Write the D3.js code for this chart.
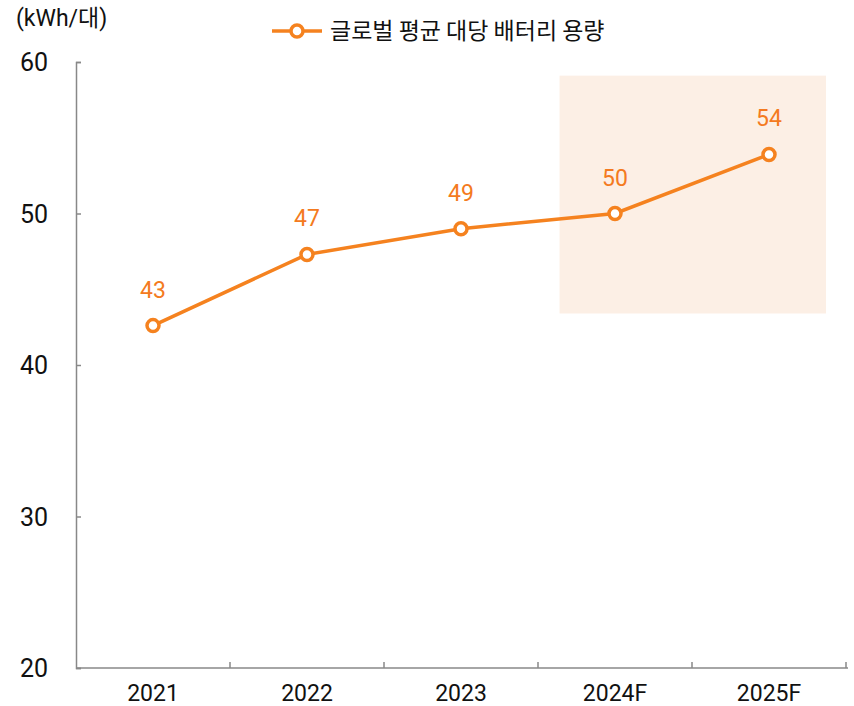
<!DOCTYPE html>
<html>
<head>
<meta charset="utf-8">
<script src="https://cdn.jsdelivr.net/npm/d3@7"></script>
<style>
  body { margin: 0; background: #fff; }
  text { font-family: Roboto, "Noto Sans CJK KR", sans-serif; }
</style>
</head>
<body>
<div id="chart"></div>
<script>
var years = ["2021", "2022", "2023", "2024F", "2025F"];
var capacity = [42.6, 47.3, 49.0, 50.0, 53.9];
var valueLabels = ["43", "47", "49", "50", "54"];
var yTicks = [20, 30, 40, 50, 60];
var seriesName = "글로벌 평균 대당 배터리 용량";
var unitLabel = "(kWh/대)";
var forecastYears = ["2024F", "2025F"];

var width = 854, height = 706;
var margin = {left: 76, right: 8, top: 62, bottom: 38};
var orange = "#F5821F";

var svg = d3.select("#chart").append("svg")
  .attr("width", width).attr("height", height);

var x = d3.scaleBand().domain(years).range([margin.left, width - margin.right]);
var y = d3.scaleLinear().domain([20, 60]).range([height - margin.bottom, margin.top]);
var bw = x.bandwidth();

// forecast shading
var sx0 = x(forecastYears[0]) + bw * 0.14, sx1 = x(forecastYears[1]) + bw * 0.87;
svg.append("rect")
  .attr("x", sx0)
  .attr("y", y(59.1))
  .attr("width", sx1 - sx0)
  .attr("height", y(43.4) - y(59.1))
  .attr("fill", "#FCEFE5");

// y axis
var yAxis = svg.append("g")
  .attr("transform", "translate(" + margin.left + ",0)")
  .call(d3.axisRight(y).tickValues(yTicks).tickSize(5).tickFormat(""));
yAxis.select(".domain").attr("stroke", "#888").attr("stroke-width", 1.5);
yAxis.selectAll(".tick line").attr("stroke", "#888").attr("stroke-width", 1.5);

svg.selectAll(".ylab").data(yTicks).enter().append("text")
  .attr("class", "ylab")
  .attr("x", 48).attr("y", function(d) { return y(d) + 9; })
  .attr("text-anchor", "end")
  .attr("style", "font-size:25px;fill:#111")
  .text(function(d) { return d; });

// x axis
var xAxis = svg.append("g")
  .attr("transform", "translate(0," + y(20) + ")");
xAxis.append("line")
  .attr("x1", margin.left).attr("x2", width - margin.right + 2)
  .attr("stroke", "#888").attr("stroke-width", 1.5);
xAxis.selectAll(".xtick").data(years).enter().append("line")
  .attr("class", "xtick")
  .attr("x1", function(d) { return x(d) + bw; })
  .attr("x2", function(d) { return x(d) + bw; })
  .attr("y1", 0).attr("y2", -6)
  .attr("stroke", "#888").attr("stroke-width", 1.5);
xAxis.selectAll(".xlab").data(years).enter().append("text")
  .attr("class", "xlab")
  .attr("x", function(d) { return x(d) + bw / 2; })
  .attr("y", 33)
  .attr("text-anchor", "middle")
  .attr("style", "font-size:23px;fill:#111")
  .text(function(d) { return d; });

// line
var line = d3.line()
  .x(function(d, i) { return x(years[i]) + bw / 2; })
  .y(function(d) { return y(d); });

svg.append("path")
  .datum(capacity)
  .attr("d", line)
  .attr("fill", "none")
  .attr("stroke", orange)
  .attr("stroke-width", 3.5);

svg.selectAll(".pt").data(capacity).enter().append("circle")
  .attr("class", "pt")
  .attr("cx", function(d, i) { return x(years[i]) + bw / 2; })
  .attr("cy", function(d) { return y(d); })
  .attr("r", 6)
  .attr("fill", "#fff")
  .attr("stroke", orange)
  .attr("stroke-width", 3.5);

svg.selectAll(".vlab").data(capacity).enter().append("text")
  .attr("class", "vlab")
  .attr("x", function(d, i) { return x(years[i]) + bw / 2; })
  .attr("y", function(d) { return y(d) - 28; })
  .attr("text-anchor", "middle")
  .attr("style", "font-size:23px;fill:#F47A20")
  .text(function(d, i) { return valueLabels[i]; });

// unit
svg.append("text")
  .attr("x", 16).attr("y", 26)
  .attr("style", "font-size:23px;fill:#111")
  .text(unitLabel);

// legend
var lg = svg.append("g").attr("transform", "translate(272,31)");
lg.append("line").attr("x1", 0).attr("x2", 50)
  .attr("stroke", orange).attr("stroke-width", 3.5);
lg.append("circle").attr("cx", 25).attr("r", 6)
  .attr("fill", "#fff").attr("stroke", orange).attr("stroke-width", 3.5);
lg.append("text").attr("x", 58).attr("y", 8)
  .attr("style", "font-size:23px;fill:#111;font-family:'Noto Sans CJK KR'")
  .text(seriesName);
</script>
</body>
</html>
